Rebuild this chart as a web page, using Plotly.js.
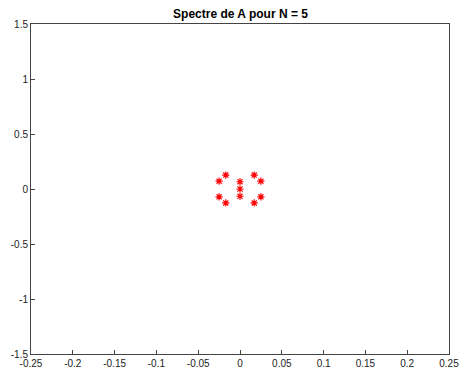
<!DOCTYPE html>
<html>
<head>
<meta charset="utf-8">
<script src="https://cdn.plot.ly/plotly-3.0.1.min.js"></script>
<style>html,body{margin:0;padding:0;background:#fff;}</style>
</head>
<body>
<div id="chart" style="width:459px;height:372px;"></div>
<script>
// Eigenvalues of A (real and imaginary parts)
const reParts = [-0.017, -0.025, -0.025, -0.017, 0, 0, 0, 0.017, 0.025, 0.025, 0.017];
const imParts = [0.127, 0.071, -0.071, -0.127, 0.066, 0, -0.066, 0.127, 0.071, -0.071, -0.127];

const xTicks = [-0.25, -0.2, -0.15, -0.1, -0.05, 0, 0.05, 0.1, 0.15, 0.2, 0.25];
const xTickText = ['-0.25', '-0.2', '-0.15', '-0.1', '-0.05', '0', '0.05', '0.1', '0.15', '0.2', '0.25'];
const yTicks = [-1.5, -1, -0.5, 0, 0.5, 1, 1.5];
const yTickText = ['-1.5', '-1', '-0.5', '0', '0.5', '1', '1.5'];

const axisCommon = {
  showgrid: false,
  zeroline: false,
  showline: true,
  mirror: true,
  linecolor: '#444',
  linewidth: 1,
  ticks: 'inside',
  ticklen: 4,
  tickcolor: '#444',
  tickfont: {family: 'Liberation Sans, Arial, sans-serif', size: 10, color: '#222'},
  tickmode: 'array',
  ticklabeloverflow: 'allow'
};

const trace = {
  x: reParts,
  y: imParts,
  mode: 'markers',
  type: 'scatter',
  marker: {symbol: 'asterisk-open', size: 6, color: 'red', line: {color: 'red', width: 1.2}},
  hoverinfo: 'x+y'
};

const layout = {
  width: 459,
  height: 372,
  margin: {l: 31, r: 10, t: 24, b: 18},
  paper_bgcolor: '#fff',
  plot_bgcolor: '#fff',
  showlegend: false,
  title: {
    text: '<b>Spectre de A pour N = 5</b>',
    font: {family: 'Liberation Sans, Arial, sans-serif', size: 12, color: '#000'},
    x: 0.524, xanchor: 'center', y: 0.962, yanchor: 'middle'
  },
  xaxis: Object.assign({}, axisCommon, {range: [-0.25, 0.25], tickvals: xTicks, ticktext: xTickText}),
  yaxis: Object.assign({}, axisCommon, {range: [-1.5, 1.5], tickvals: yTicks, ticktext: yTickText})
};

Plotly.newPlot('chart', [trace], layout, {displayModeBar: false, staticPlot: true});
</script>
</body>
</html>
